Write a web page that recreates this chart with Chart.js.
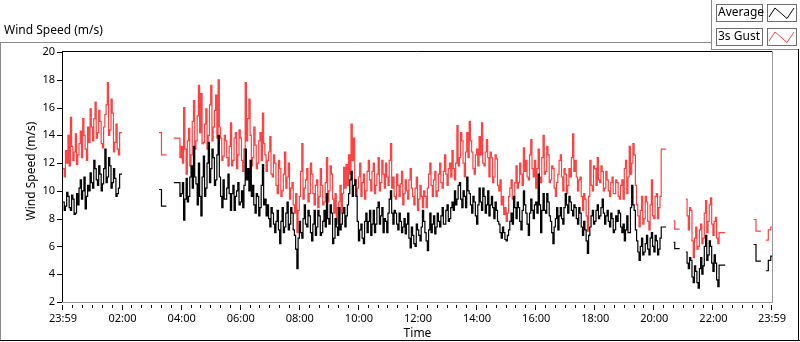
<!DOCTYPE html>
<html>
<head>
<meta charset="utf-8">
<script src="https://cdn.jsdelivr.net/npm/chart.js@4.4.1/dist/chart.umd.min.js"></script>
<style>
  html, body { margin: 0; padding: 0; background: #fff; }
  #wrap { width: 800px; height: 342px; position: relative; }
</style>
</head>
<body>
<div id="wrap"><canvas id="windChart" width="800" height="342"></canvas></div>
<script>
// samples every 2.5 minutes, minute 0 = 23:59
const stepMinutes = 2.5;
const segmentStarts = [0, 195, 225, 1240, 1265, 1402.5, 1427.5];

const nightAvg = [
  9.2, 8.6, 8.9, 9.9, 9.6, 8.8, 8.6, 9.7, 9.4, 8.3, 8.4, 9.8, 9.0, 10.2, 10.8, 9.4, 10.0, 11.0, 8.7, 9.6,
  10.4, 10.0, 11.3, 10.6, 10.2, 12.2, 11.6, 10.8, 10.4, 11.8, 11.2, 10.0, 10.5, 11.6, 13.0, 10.6, 11.0, 12.4, 11.8, 10.2,
  10.6, 11.6, 10.9, 9.6, 9.8, 10.2, 11.2, 11.2, 11.2
];
const nightGust = [
  11.6, 11.0, 12.9, 12.0, 14.0, 11.8, 15.3, 13.2, 12.2, 12.8, 14.1, 11.9, 12.6, 13.4, 14.3, 12.4, 15.2, 14.0, 13.0, 12.2,
  14.6, 13.5, 15.9, 14.6, 13.6, 15.2, 16.4, 13.8, 14.2, 15.8, 15.0, 13.4, 13.1, 14.6, 15.5, 16.2, 17.8, 14.0, 14.4, 16.6,
  15.6, 12.8, 13.5, 14.8, 13.0, 12.6, 14.2, 14.2, 14.2
];

const blipAvg = [10.1, 10.1, 8.9, 8.9, 8.9, 8.9, 8.9];
const blipGust = [14.2, 14.2, 12.6, 12.6, 12.6, 12.6, 12.6];

const dayAvg = [
  10.6, 10.6, 10.6, 10.6, 10.6, 9.6,
  9.8, 10.6, 7.9, 9.4, 10.9, 9.2, 9.6, 11.0, 11.8, 10.2, 13.2, 11.0, 10.5, 9.0, 12.0, 9.6,
  8.2, 11.0, 12.5, 9.6, 10.2, 12.0, 13.5, 10.6, 11.6, 13.0, 12.4, 10.4, 10.8, 12.6, 14.0, 11.0, 9.6, 8.8, 10.8, 9.4,
  9.4, 10.2, 11.2, 9.8, 8.6, 9.8, 10.4, 8.6, 9.6, 10.0, 10.6, 9.0, 9.2, 10.0, 8.8, 10.4, 13.0, 10.8, 11.6, 10.0,
  12.2, 9.6, 10.4, 9.0, 8.4, 9.8, 9.6, 8.2, 8.8, 10.4, 11.9, 9.0, 9.4, 8.2, 9.0, 8.0, 7.4, 8.8, 8.4, 7.6,
  7.0, 7.8, 8.6, 7.2, 6.2, 7.8, 8.8, 7.0, 7.4, 8.4, 9.2, 7.2, 7.6, 8.8, 8.4, 7.2, 6.8, 5.8, 4.4, 6.6,
  7.8, 7.0, 6.6, 8.0, 9.0, 7.6, 7.4, 8.6, 8.2, 7.0, 6.4, 7.6, 8.6, 6.8, 7.4, 8.6, 8.2, 6.8, 7.0, 7.8,
  8.6, 7.4, 9.8, 8.0, 7.6, 9.0, 8.4, 6.2, 6.6, 8.0, 7.4, 6.8, 8.8, 7.2, 7.6, 8.4, 8.8, 7.4,
  8.2, 9.0, 9.8, 10.8, 11.4, 9.6, 10.4, 10.8, 9.6, 7.8, 6.4, 7.2, 7.6, 6.6, 6.2, 7.8, 8.4, 7.0, 7.8, 8.6,
  6.8, 7.6, 8.6, 7.0, 7.6, 8.8, 9.2, 7.6, 8.2, 8.8, 7.0, 8.0, 7.8, 7.0, 8.4, 9.4, 10.0, 8.4, 7.6, 8.6,
  8.4, 7.6, 7.2, 8.4, 7.8, 7.0, 7.4, 8.0, 6.9, 7.6, 8.4, 6.6, 5.9, 7.4, 6.8, 6.2, 6.0, 7.6, 7.2, 6.8,
  6.4, 7.4, 8.6, 7.8, 7.0, 6.4, 5.7, 7.2, 8.4, 7.0, 7.6, 8.2, 6.9, 7.4, 8.4, 7.8, 7.4, 8.2, 8.8, 7.6,
  7.6, 8.6, 9.0, 7.8, 8.0, 8.8, 9.2, 8.6, 10.0, 9.0, 9.4, 10.4, 10.6, 9.4, 8.8, 10.0, 9.6, 8.8, 11.0, 10.0,
  9.8, 9.0, 8.4, 9.6, 9.2, 8.2, 7.6, 9.0, 10.2, 9.2, 8.6, 10.2, 9.6, 8.4,
  9.0, 10.0, 8.2, 9.0, 9.6, 8.8, 8.0, 9.2, 8.6, 7.8, 7.6, 7.0, 6.6, 7.4, 7.0, 6.5, 6.4, 6.8, 7.2, 7.8,
  8.4, 7.6, 9.6, 8.8, 8.0, 9.2, 8.8, 7.8, 7.2, 8.6, 10.0, 9.0, 8.4, 7.6, 6.8, 8.4, 9.4, 8.6, 8.0, 9.0,
  9.2, 8.4, 11.2, 9.0, 7.0, 8.6, 9.8, 8.6, 8.4, 9.8, 9.2, 8.2, 7.8, 7.0, 6.2, 7.4, 8.0, 8.8, 7.2, 8.2,
  8.8, 8.0, 7.6, 8.8, 9.8, 9.0, 8.4, 9.6, 9.2, 8.6, 8.2, 9.0, 8.8, 8.0, 7.6, 8.8, 8.4, 7.4, 6.8, 7.8,
  7.2, 6.4, 5.5, 6.8, 7.4, 8.2, 8.6, 7.6, 7.8, 8.6, 9.0, 8.0, 8.2, 8.8, 9.4, 8.4, 7.6, 8.2, 8.6, 7.8,
  7.4, 8.4, 8.0, 7.0, 7.2, 8.2, 7.8, 8.6, 8.4, 7.4, 7.0, 7.6,
  6.4, 7.2, 8.2, 7.0, 7.0, 8.8, 10.4, 9.0, 8.6, 7.2, 6.4, 5.6, 5.0, 6.0, 6.6, 5.4, 5.6, 6.2, 6.8, 5.8,
  5.4, 6.6, 7.0, 6.0, 5.6, 6.8, 6.4, 5.4, 5.8, 6.6, 7.4, 7.4, 7.4, 7.4, 7.4
];
const dayGust = [
  13.8, 13.8, 13.8, 13.8, 13.8, 12.4,
  13.2, 12.0, 16.0, 13.0, 11.2, 13.6, 14.5, 11.8, 12.6, 15.0, 16.5, 13.0, 13.6, 15.4, 17.6, 14.2,
  17.0, 13.4, 13.5, 14.8, 15.9, 13.0, 14.0, 16.2, 17.6, 13.6, 14.6, 15.8, 16.9, 13.8, 18.0, 14.6, 13.8, 12.2, 12.5, 14.0,
  13.6, 12.4, 11.8, 13.2, 14.9, 11.8, 12.2, 13.8, 14.2, 11.6, 12.6, 14.4, 13.8, 12.2, 11.4, 13.0, 17.8, 13.6, 15.2, 16.6,
  14.0, 11.8, 12.4, 14.6, 13.3, 11.6, 12.0, 13.6, 14.2, 12.2, 15.6, 13.4, 12.6, 11.4, 12.2, 12.8, 13.9, 11.2, 11.0, 12.6,
  12.0, 10.4, 9.8, 12.2, 11.6, 9.6, 10.0, 11.2, 12.8, 10.2, 11.0, 12.0, 9.4, 10.2, 10.6, 9.0, 8.4, 9.8, 7.0, 8.6,
  9.6, 11.4, 13.4, 9.4, 10.2, 10.8, 11.6, 9.2, 9.8, 12.0, 11.2, 9.8, 9.0, 10.4, 10.8, 8.8, 9.6, 11.6, 10.4, 9.0,
  9.2, 10.6, 12.4, 9.2, 10.0, 11.8, 11.2, 9.4, 8.4, 9.8, 7.6, 8.8, 9.2, 10.4, 8.4, 9.8, 11.7, 10.2,
  11.9, 10.4, 12.6, 11.2, 14.8, 12.2, 13.8, 10.8, 9.6, 10.2, 11.0, 12.0, 9.6, 10.6, 11.2, 9.4, 10.0, 11.4, 12.2, 10.8,
  10.0, 11.4, 12.0, 9.8, 10.4, 11.2, 12.4, 10.0, 10.6, 12.2, 11.2, 10.2, 12.0, 11.0, 10.4, 12.2, 13.4, 10.2, 11.0, 9.6,
  9.4, 11.2, 10.4, 9.6, 10.5, 11.4, 9.0, 9.8, 10.8, 10.0, 9.4, 10.8, 11.6, 10.2, 9.6, 9.0, 10.2, 11.0, 8.6, 9.4,
  10.4, 9.6, 8.8, 10.0, 9.6, 8.8, 10.2, 11.2, 12.0, 10.4, 9.6, 10.8, 11.4, 9.6, 10.0, 11.2, 12.0, 10.6, 10.2, 11.4,
  12.6, 11.2, 10.4, 11.6, 12.0, 11.0, 12.9, 11.6, 10.8, 12.0, 14.7, 11.8, 12.4, 14.2, 13.6, 12.0, 11.0, 12.8, 14.2, 12.4,
  15.0, 13.6, 12.8, 11.6, 11.2, 12.6, 13.0, 11.8, 13.9, 12.6, 14.9, 12.0, 11.8, 12.8,
  13.7, 12.4, 11.0, 12.8, 12.4, 10.6, 11.0, 12.6, 12.3, 10.4, 10.0, 10.8, 9.0, 9.6, 8.3, 8.8, 7.8, 8.4, 9.6, 10.2,
  10.8, 9.4, 9.5, 10.6, 11.8, 10.2, 10.6, 12.0, 11.2, 10.4, 13.1, 11.4, 12.2, 11.0, 10.8, 12.6, 13.7, 11.6, 11.0, 12.2,
  10.2, 11.6, 13.0, 11.0, 10.6, 12.4, 14.0, 11.2, 11.4, 13.2, 12.6, 10.6, 10.8, 11.8, 11.6, 10.2, 9.6, 10.6, 11.2, 12.2,
  12.6, 11.0, 10.0, 11.6, 11.2, 9.8, 10.4, 11.6, 11.0, 12.4, 14.1, 11.4, 12.2, 11.0, 10.0, 10.8, 11.0, 9.6, 8.6, 9.8,
  9.4, 8.2, 7.1, 9.6, 12.2, 10.4, 10.0, 11.8, 11.6, 10.4, 12.4, 10.8, 10.6, 11.8, 11.4, 10.0, 10.2, 11.4, 10.8, 10.0,
  9.6, 10.6, 11.0, 9.8, 9.8, 10.8, 10.6, 9.6, 9.4, 10.4, 10.8, 9.4,
  11.6, 12.2, 9.8, 11.0, 13.2, 11.2, 12.0, 13.4, 12.6, 10.4, 9.0, 8.2, 7.4, 8.6, 9.6, 7.6, 8.0, 9.6, 9.2, 7.8,
  7.2, 9.0, 10.8, 8.2, 8.0, 9.6, 9.8, 8.0, 8.8, 9.6, 13.0, 13.0, 13.0, 13.0, 13.0
];

const eveAvg = [6.3, 5.85, 5.85, 5.85, 5.85, 5.85];
const eveGust = [7.85, 7.25, 7.25, 7.25, 7.25, 7.25];

const lateAvg = [
  5.6, 4.8, 4.4, 5.2, 5.0, 3.8, 3.4, 4.6, 4.2, 3.4, 3.0, 4.4, 5.2, 4.0, 4.6, 6.0, 6.8, 5.0, 5.4, 6.4,
  6.0, 4.8, 4.2, 5.4, 4.8, 3.6, 3.1, 4.65, 4.65, 4.65, 4.65, 4.65, 4.65
];
const lateGust = [
  9.4, 8.2, 7.2, 8.8, 8.6, 6.4, 5.2, 6.6, 7.4, 5.8, 6.0, 7.2, 7.6, 6.2, 6.6, 8.4, 9.3, 7.0, 7.8, 9.0,
  9.5, 7.6, 6.8, 7.8, 8.1, 6.6, 6.2, 7.0, 7.0, 7.0, 7.0, 7.0, 7.0
];

const tailAvgA = [6.14, 6.14, 4.94, 4.94, 4.94, 4.94, 4.94];
const tailGustA = [7.94, 7.94, 7.1, 7.1, 7.1, 7.1, 7.1];
const tailAvgB = [4.25, 4.25, 5.0, 5.0, 5.3, 5.3];
const tailGustB = [6.45, 6.45, 7.2, 7.2, 7.4, 7.4];

const avgSegments = [nightAvg, blipAvg, dayAvg, eveAvg, lateAvg, tailAvgA, tailAvgB];
const gustSegments = [nightGust, blipGust, dayGust, eveGust, lateGust, tailGustA, tailGustB];

const tickMinutes = [0, 121, 241, 361, 481, 601, 721, 841, 961, 1081, 1201, 1321, 1440];
const tickLabels = ["23:59", "02:00", "04:00", "06:00", "08:00", "10:00", "12:00", "14:00", "16:00", "18:00", "20:00", "22:00", "23:59"];
const yTicks = [2, 4, 6, 8, 10, 12, 14, 16, 18, 20];

const FONT = '"Noto Sans", "Open Sans", sans-serif';

// join segments, a null point breaks the line between them
function buildPoints(segments) {
  const pts = [];
  segments.forEach((vals, s) => {
    if (s > 0) pts.push({ x: segmentStarts[s] - 1, y: null });
    vals.forEach((v, i) => pts.push({ x: segmentStarts[s] + i * stepMinutes, y: v }));
  });
  return pts;
}

function hline(ctx, x1, x2, y) { ctx.beginPath(); ctx.moveTo(x1, y); ctx.lineTo(x2, y); ctx.stroke(); }
function vline(ctx, x, y1, y2) { ctx.beginPath(); ctx.moveTo(x, y1); ctx.lineTo(x, y2); ctx.stroke(); }

// frame, tick marks, titles and legend in LabVIEW style
const labviewDecor = {
  id: 'labviewDecor',
  afterDraw(chart) {
    const ctx = chart.ctx;
    const area = chart.chartArea;
    const xs = chart.scales.x;
    const ys = chart.scales.y;
    ctx.save();
    ctx.lineWidth = 1;

    // outer frame
    ctx.strokeStyle = '#8a8a8a';
    hline(ctx, 0, 711, 42.5);
    vline(ctx, 0.5, 42, 341);
    vline(ctx, 711.5, 0, 49);
    hline(ctx, 711, 799, 49.5);
    ctx.strokeStyle = '#000';
    hline(ctx, 0, 800, 340.5);
    vline(ctx, 798.5, 49, 341);

    // plot border
    ctx.strokeStyle = '#000';
    hline(ctx, area.left - 1, area.right + 1, area.top - 0.5);
    vline(ctx, area.left - 0.5, area.top - 1, area.bottom + 1);
    ctx.strokeStyle = '#9a9a9a';
    hline(ctx, area.left - 1, area.right + 1, area.bottom + 0.5);
    vline(ctx, area.right + 0.5, area.top - 1, area.bottom + 1);

    // y tick marks
    ctx.strokeStyle = '#000';
    yTicks.forEach(v => {
      const y = Math.round(ys.getPixelForValue(v)) + 0.5;
      hline(ctx, area.left - 6, area.left - 1, y);
    });
    // x tick marks, major and every 20 minutes
    tickMinutes.forEach(m => {
      const x = Math.round(xs.getPixelForValue(m)) - 0.5;
      vline(ctx, x, area.bottom + 3, area.bottom + 8);
    });
    for (let m = 21; m < 1440; m += 20) {
      if ((m - 1) % 120 === 0) continue;
      const x = Math.round(xs.getPixelForValue(m)) - 0.5;
      vline(ctx, x, area.bottom + 3, area.bottom + 6);
    }

    // titles
    ctx.fillStyle = '#000';
    ctx.font = '12px ' + FONT;
    ctx.textBaseline = 'middle';
    ctx.textAlign = 'left';
    ctx.fillText('Wind Speed (m/s)', 4, 31);
    ctx.textAlign = 'center';
    ctx.fillText('Time', (area.left + area.right) / 2, 334);
    ctx.save();
    ctx.translate(32, (area.top + area.bottom) / 2 - 6);
    ctx.rotate(-Math.PI / 2);
    ctx.fillText('Wind Speed (m/s)', 0, 0);
    ctx.restore();

    // legend
    const rows = [
      { label: 'Average', color: '#000', top: 4.5 },
      { label: '3s Gust', color: '#ff4040', top: 28.5 }
    ];
    rows.forEach(r => {
      ctx.strokeStyle = '#6e6e6e';
      ctx.strokeRect(716.5, r.top, 46, 17);
      ctx.strokeRect(767.5, r.top, 29, 17);
      ctx.fillStyle = '#000';
      ctx.textAlign = 'left';
      ctx.fillText(r.label, 718, r.top + 8.5);
      ctx.strokeStyle = r.color;
      ctx.beginPath();
      ctx.moveTo(769, r.top + 12.5);
      ctx.lineTo(775, r.top + 3.5);
      ctx.lineTo(787, r.top + 14);
      ctx.lineTo(794, r.top + 3.5);
      ctx.stroke();
    });
    ctx.restore();
  }
};

const chart = new Chart(document.getElementById('windChart').getContext('2d'), {
  type: 'line',
  data: {
    datasets: [
      { label: 'Average', data: buildPoints(avgSegments), borderColor: '#000', borderWidth: 1.2, pointRadius: 0, stepped: 'before', fill: false },
      { label: '3s Gust', data: buildPoints(gustSegments), borderColor: '#ff4040', borderWidth: 1.2, pointRadius: 0, stepped: 'before', fill: false }
    ]
  },
  options: {
    responsive: false,
    animation: false,
    events: [],
    spanGaps: false,
    layout: { padding: { left: 0, right: 28, top: 52, bottom: 0 } },
    plugins: { legend: { display: false }, tooltip: { enabled: false } },
    scales: {
      x: {
        type: 'linear',
        min: 0,
        max: 1440,
        afterBuildTicks: s => { s.ticks = tickMinutes.map(v => ({ value: v })); },
        afterFit: s => { s.height = 40; },
        grid: { display: false, drawTicks: false },
        border: { display: false },
        ticks: {
          autoSkip: false,
          maxRotation: 0,
          padding: 10,
          color: '#000',
          font: { family: FONT, size: 11 },
          callback: v => tickLabels[tickMinutes.indexOf(v)]
        }
      },
      y: {
        min: 2,
        max: 20,
        afterBuildTicks: s => { s.ticks = yTicks.map(v => ({ value: v })); },
        afterFit: s => { s.width = 63; },
        grid: { display: false, drawTicks: false },
        border: { display: false },
        ticks: {
          padding: 8,
          color: '#000',
          font: { family: FONT, size: 11 }
        }
      }
    }
  },
  plugins: [labviewDecor]
});
</script>
</body>
</html>
